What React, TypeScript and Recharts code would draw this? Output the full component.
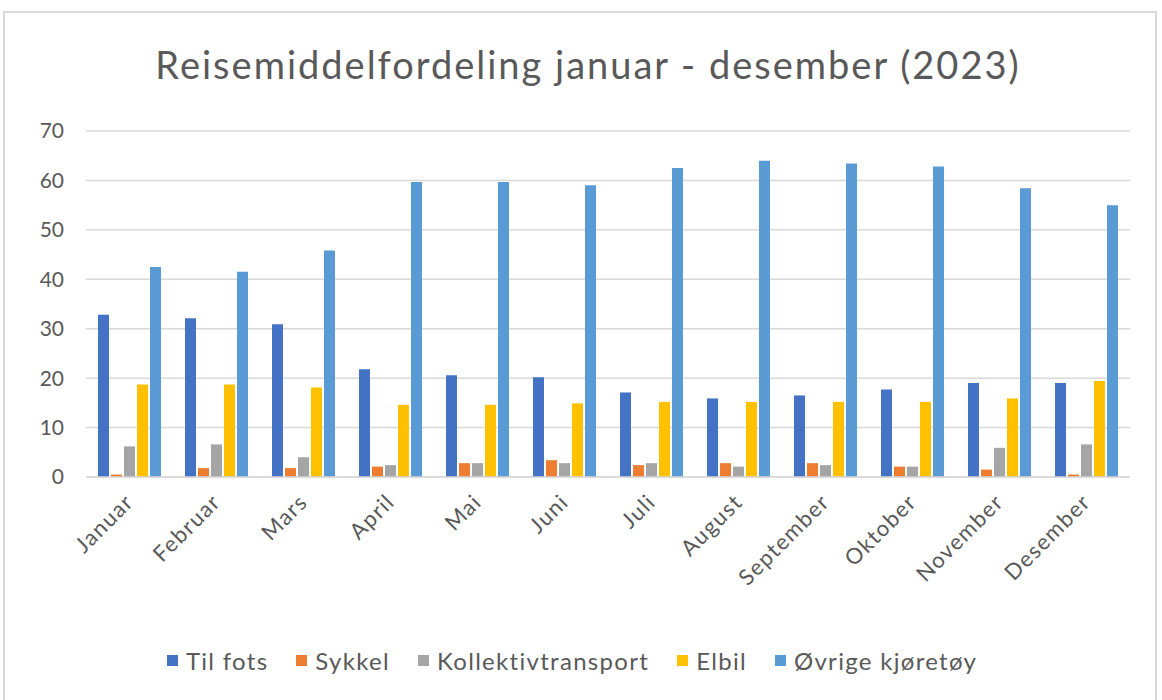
import { BarChart, Bar, XAxis, YAxis, CartesianGrid, Legend } from "recharts";

const MONTHS = [
  "Januar",
  "Februar",
  "Mars",
  "April",
  "Mai",
  "Juni",
  "Juli",
  "August",
  "September",
  "Oktober",
  "November",
  "Desember",
];
const TIL_FOTS = [32.8, 32.1, 30.9, 21.8, 20.6, 20.2, 17.1, 15.9, 16.5, 17.7, 19.0, 19.0];
const SYKKEL = [0.5, 1.8, 1.8, 2.1, 2.8, 3.4, 2.4, 2.8, 2.8, 2.1, 1.5, 0.5];
const KOLLEKTIV = [6.2, 6.6, 4.0, 2.4, 2.8, 2.8, 2.8, 2.1, 2.4, 2.1, 5.9, 6.6];
const ELBIL = [18.7, 18.7, 18.1, 14.6, 14.6, 14.9, 15.2, 15.2, 15.2, 15.2, 15.9, 19.4];
const OVRIGE = [42.5, 41.5, 45.8, 59.7, 59.7, 59.0, 62.5, 64.0, 63.4, 62.8, 58.4, 55.0];
const Y_TICKS = [0, 10, 20, 30, 40, 50, 60, 70];

const SERIES = [
  { key: "tilFots", name: "Til fots", values: TIL_FOTS, color: "#4472C4" },
  { key: "sykkel", name: "Sykkel", values: SYKKEL, color: "#ED7D31" },
  { key: "kollektiv", name: "Kollektivtransport", values: KOLLEKTIV, color: "#A5A5A5" },
  { key: "elbil", name: "Elbil", values: ELBIL, color: "#FFC000" },
  { key: "ovrige", name: "Øvrige kjøretøy", values: OVRIGE, color: "#5B9BD5" },
];

const data = MONTHS.map((month, i) => {
  const row: Record<string, string | number> = { month };
  SERIES.forEach((s) => {
    row[s.key] = s.values[i];
  });
  return row;
});

const FONT = "Lato, 'Open Sans', sans-serif";
const TEXT = "#595959";

function MonthTick(props: any) {
  const { x, y, payload } = props;
  return (
    <g transform={`translate(${x},${y + 13})`}>
      <text
        x={0}
        y={0}
        dy="0.35em"
        textAnchor="end"
        transform="rotate(-45)"
        fill={TEXT}
        fontSize={22}
        letterSpacing={1.4}
        fontFamily={FONT}
      >
        {payload.value}
      </text>
    </g>
  );
}

// legend in series order (recharts 3 sorts by name otherwise)
function SeriesLegend() {
  return (
    <div
      style={{
        display: "flex",
        justifyContent: "center",
        alignItems: "center",
        gap: 28,
        height: 30,
        fontSize: 24,
        letterSpacing: 1.3,
        fontFamily: FONT,
        color: TEXT,
        paddingLeft: 14,
      }}
    >
      {SERIES.map((s) => (
        <div key={s.key} style={{ display: "flex", alignItems: "center" }}>
          <span
            style={{
              display: "inline-block",
              width: 11,
              height: 11,
              background: s.color,
              marginRight: 8,
            }}
          />
          <span>{s.name}</span>
        </div>
      ))}
    </div>
  );
}

export default function App() {
  return (
    <div
      style={{
        position: "absolute",
        left: 0,
        top: 0,
        width: 1162,
        height: 700,
        background: "#fff",
        fontFamily: FONT,
      }}
    >
      <div
        style={{
          position: "absolute",
          left: 3,
          top: 11,
          width: 1154,
          height: 689,
          border: "2px solid #d9d9d9",
          borderBottom: "none",
          boxSizing: "border-box",
        }}
      />
      <div
        style={{
          position: "absolute",
          left: 0,
          top: 41,
          width: 1176,
          textAlign: "center",
          fontSize: 38,
          color: TEXT,
          letterSpacing: 2,
        }}
      >
        Reisemiddelfordeling januar - desember (2023)
      </div>
      <div style={{ position: "absolute", left: 0, top: 0 }}>
        <BarChart
          width={1162}
          height={700}
          data={data}
          margin={{ top: 131, right: 32, left: 0, bottom: 25 }}
          barGap={2}
          barSize={11}
        >
          <CartesianGrid vertical={false} stroke="#d9d9d9" strokeWidth={1.5} />
          <XAxis
            dataKey="month"
            interval={0}
            height={168}
            tick={<MonthTick />}
            tickLine={false}
            axisLine={{ stroke: "#d9d9d9", strokeWidth: 1.5 }}
          />
          <YAxis
            width={86}
            domain={[0, 70]}
            ticks={Y_TICKS}
            tickSize={0}
            tickMargin={22}
            axisLine={false}
            tickLine={false}
            tick={{ fill: TEXT, fontSize: 21, fontFamily: FONT }}
          />
          <Legend
            verticalAlign="bottom"
            wrapperStyle={{ height: 30 }}
            content={<SeriesLegend />}
          />
          {SERIES.map((s) => (
            <Bar
              key={s.key}
              dataKey={s.key}
              name={s.name}
              fill={s.color}
              isAnimationActive={false}
            />
          ))}
        </BarChart>
      </div>
    </div>
  );
}
